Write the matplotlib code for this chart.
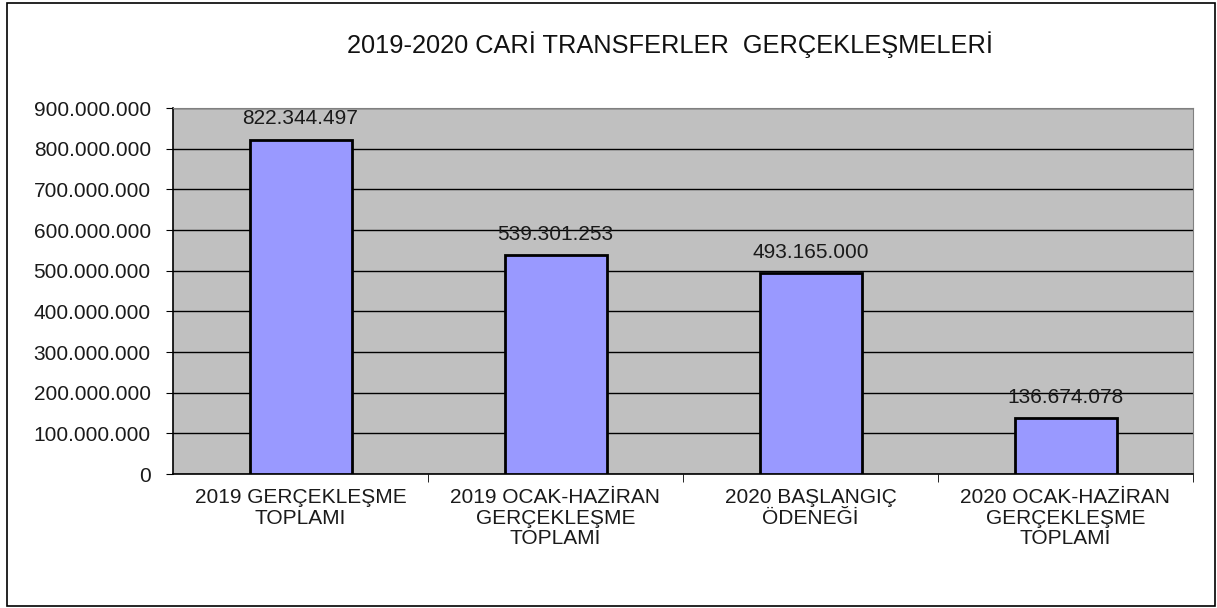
import matplotlib.pyplot as plt
from matplotlib.patches import Rectangle
from matplotlib.ticker import FuncFormatter, FixedLocator

categories = ["2019 GERÇEKLEŞME\nTOPLAMI",
              "2019 OCAK-HAZİRAN\nGERÇEKLEŞME\nTOPLAMI",
              "2020 BAŞLANGIÇ\nÖDENEĞİ",
              "2020 OCAK-HAZİRAN\nGERÇEKLEŞME\nTOPLAMI"]
values = [822344497, 539301253, 493165000, 136674078]
title = "2019-2020 CARİ TRANSFERLER  GERÇEKLEŞMELERİ"


def dotted(v, pos=None):
    return f"{v:,.0f}".replace(",", ".")


plt.rcParams['font.family'] = ['Liberation Sans', 'DejaVu Sans']

fig = plt.figure(figsize=(12.17, 6.08), dpi=100)
ax = fig.add_axes([173 / 1217, 1 - 474 / 608, 1020 / 1217, 366 / 608])

x = range(len(values))
ax.set_facecolor("#c0c0c0")
ax.bar(x, values, width=0.4, color="#9999ff", edgecolor="black", linewidth=2, zorder=3)

for i, v in enumerate(values):
    ax.annotate(dotted(v), (i, v), xytext=(0, 8), textcoords="offset points",
                ha="center", va="bottom", fontsize=15, color="#1a1a1a")

ax.set_ylim(0, 900000000)
ax.set_xlim(-0.5, 3.5)
ax.set_yticks(range(0, 900000001, 100000000))
ax.yaxis.set_major_formatter(FuncFormatter(dotted))
ax.grid(axis="y", color="black", linewidth=1, zorder=1)
ax.set_axisbelow(True)

ax.set_xticks(list(x))
ax.set_xticklabels(categories, fontsize=15, linespacing=1.12, color="#1a1a1a")
ax.xaxis.set_minor_locator(FixedLocator([0.5, 1.5, 2.5, 3.5]))
ax.tick_params(axis="x", which="major", length=0, pad=10)
ax.tick_params(axis="x", which="minor", length=6, direction="out", color="black")
ax.tick_params(axis="y", length=5, direction="out", labelsize=15, labelcolor="#1a1a1a", pad=11)

for side in ["top", "right"]:
    ax.spines[side].set_color("#808080")
for side in ["left", "bottom"]:
    ax.spines[side].set_color("black")
    ax.spines[side].set_linewidth(1.2)

fig.text(670 / 1217, 1 - 45 / 608, title, ha="center", va="center", fontsize=18.3,
         color="#111111")

fig.patches.append(Rectangle((7 / 1217, 2 / 608), 1208 / 1217, 603 / 608,
                             transform=fig.transFigure, fill=False,
                             edgecolor="black", linewidth=1.2))

fig.savefig("out.png", dpi=100)
